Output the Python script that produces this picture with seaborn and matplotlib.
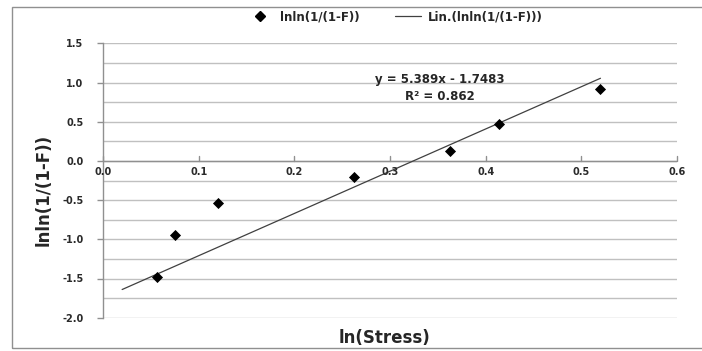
import matplotlib
matplotlib.use("Agg")
import matplotlib.pyplot as plt
from matplotlib.lines import Line2D
from matplotlib.patches import Rectangle
import numpy as np
import pandas as pd
import seaborn as sns

# Weibull plot data: ln(stress) vs lnln(1/(1-F))
ln_stress = [0.056, 0.0756, 0.1205, 0.262, 0.363, 0.414, 0.519]
lnln_F = [-1.48, -0.94, -0.54, -0.20, 0.13, 0.47, 0.915]

# Linear trend line reported by the fit
slope = 5.389
intercept = -1.7483
r_squared = 0.862
trend_x = [0.02, 0.52]

x_ticks = [0.0, 0.1, 0.2, 0.3, 0.4, 0.5, 0.6]
y_ticks = [-2.0, -1.5, -1.0, -0.5, 0.0, 0.5, 1.0, 1.5]
y_minor = [-1.75, -1.25, -0.75, -0.25, 0.25, 0.75, 1.25]

sns.set_theme(style="white")
plt.rcParams["font.family"] = ["DejaVu Sans"]

points = pd.DataFrame({"x": ln_stress, "y": lnln_F})
trend = pd.DataFrame({"x": trend_x,
                      "y": [slope * v + intercept for v in trend_x]})

fig = plt.figure(figsize=(7.02, 3.51), dpi=100)
ax = fig.add_axes([103 / 702, 1 - 317.7 / 351, (677 - 103) / 702, (317.7 - 43.3) / 351])

grid_c = "#c0c0c0"
for v in y_ticks + y_minor:
    ax.axhline(v, color=grid_c, lw=1.0, zorder=0)

sns.lineplot(data=trend, x="x", y="y", ax=ax, color="#404040", lw=0.9, zorder=2)
sns.scatterplot(data=points, x="x", y="y", ax=ax, marker="D", s=32,
                color="black", edgecolor="black", linewidth=0, zorder=3)

ax.set_xlim(0.0, 0.6)
ax.set_ylim(-2.0, 1.5)

for s in ["top", "right", "bottom"]:
    ax.spines[s].set_visible(False)
ax.spines["left"].set_color("#909090")
ax.spines["left"].set_linewidth(1.0)

# horizontal axis drawn at y = 0 with tick labels underneath
ax.axhline(0, color="#909090", lw=1.0, zorder=1)
ax.set_xticks([])
for v in x_ticks:
    ax.plot([v, v], [0, 0.06], color="#909090", lw=1.0, zorder=1, clip_on=False)
    ax.text(v, -0.08, f"{v:.1f}", ha="center", va="top", fontsize=7,
            fontweight="bold", color="#2a2a2a")

ax.set_yticks(y_ticks)
ax.set_yticklabels([f"{v:.1f}" for v in y_ticks], fontsize=7,
                   fontweight="bold", color="#2a2a2a")
ax.tick_params(axis="y", length=4, width=1.0, color="#909090", pad=10, left=True)

ax.set_xlabel("")
ax.set_ylabel("lnln(1/(1-F))", fontsize=12, fontweight="bold")
ax.yaxis.set_label_coords(-0.088, 0.465)
fig.text(385 / 702, 1 - 338 / 351, "ln(Stress)", ha="center", va="center",
         fontsize=12, fontweight="bold")

ax.text(0.352, 1.04, f"y = {slope}x - {abs(intercept)}", ha="center", va="center",
        fontsize=8.5, fontweight="bold")
ax.text(0.352, 0.82, f"R² = {r_squared}", ha="center", va="center",
        fontsize=8.5, fontweight="bold")

handles = [
    Line2D([], [], marker="D", color="black", linestyle="none", markersize=5),
    Line2D([], [], color="#404040", lw=0.9),
]
fig.legend(handles, ["lnln(1/(1-F))", "Lin.(lnln(1/(1-F)))"],
           loc="center", bbox_to_anchor=(395 / 702, 1 - 17 / 351), ncol=2,
           frameon=False, prop={"size": 8.5, "weight": "bold"},
           handlelength=2.2, columnspacing=3.0, handletextpad=0.6)

fig.patches.append(Rectangle((12 / 702, 3 / 351), 1.0, 1 - 10 / 351,
                             transform=fig.transFigure, fill=False,
                             edgecolor="#909090", lw=1.0, clip_on=False))

fig.savefig("out.png", dpi=100)
